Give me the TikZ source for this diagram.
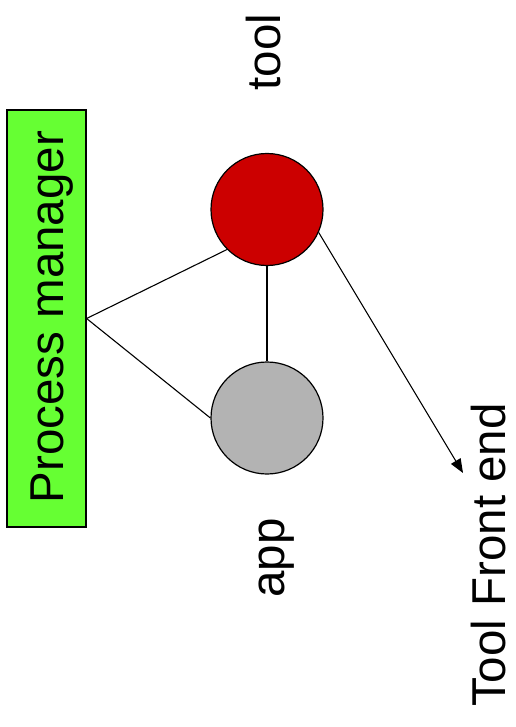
\documentclass[tikz,border=0pt]{standalone}
\usepackage{fontspec}
\setmainfont{Liberation Sans}
\usetikzlibrary{arrows.meta}
\definecolor{pmgreen}{HTML}{66FF33}
\definecolor{toolred}{HTML}{CC0000}
\definecolor{appgray}{HTML}{B3B3B3}
\begin{document}
\begin{tikzpicture}[x=1pt,y=-1pt,
  lbl/.style={font=\fontsize{47.5}{56}\selectfont, rotate=90, anchor=base, inner sep=0pt},
  proc/.style={circle, draw=black, line width=1.2pt, minimum size=112pt, inner sep=0pt},
  link/.style={draw=black, line width=1.1pt}]
\useasboundingbox (0,0) rectangle (515,727);
% process manager box
\node[draw=black, line width=1.2pt, fill=pmgreen, minimum width=79pt, minimum height=417pt, inner sep=0pt] (pm) at (46.5,318.5) {};
\node[lbl] (pmtext) at (63,317) {Process manager};
% processes
\node[proc, fill=toolred] (tool) at (267,209.5) {};
\node[proc, fill=appgray] (app) at (267,418) {};
% labels
\node[lbl] (tooltext) at (280,52) {tool};
\node[lbl] (apptext) at (284,558) {app};
\node[lbl, text depth=0pt] (fetext) at (505,555) {Tool Front end};
\coordinate (fe) at (463,473);
% connections
\draw[link] (pm.east) -- (tool.225);
\draw[link] (pm.east) -- (app.west);
\draw[link] (tool.south) -- (app.north);
\draw[link, -{Triangle[length=14pt,width=11pt]}] (tool.-24) -- (fe);
\end{tikzpicture}
\end{document}
